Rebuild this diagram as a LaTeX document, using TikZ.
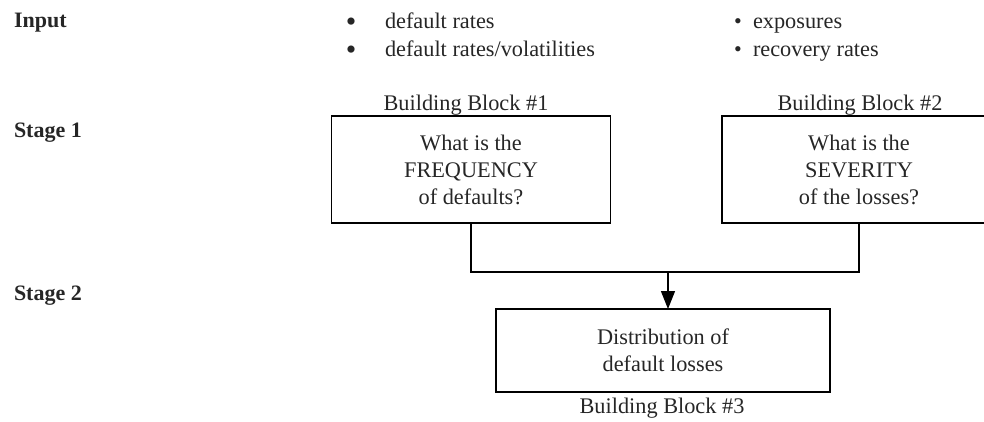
\documentclass[tikz,border=0pt]{standalone}
\usepackage{fontspec}
\setmainfont{Liberation Serif}
\usetikzlibrary{arrows.meta}
\begin{document}
\begin{tikzpicture}[x=1pt,y=-1pt,
  every node/.style={inner sep=0pt,outer sep=0pt,font=\fontsize{22.3}{27}\selectfont,text=black!85},
  lbl/.style={anchor=base west,font=\fontsize{22}{27}\selectfont\bfseries},
  txt/.style={anchor=base west},
  ctxt/.style={anchor=base},
  blockbox/.style={draw,line width=1.2pt,align=center},
  conn/.style={line width=1.2pt}]
\useasboundingbox (0,0) rectangle (984,421);
% row labels
\node[lbl] (input) at (14,27) {Input};
\node[lbl] (stage1) at (14,137) {Stage 1};
\node[lbl] (stage2) at (14,300) {Stage 2};
% inputs
\node[ctxt,font=\fontsize{30}{30}\selectfont] (bu1) at (351,31) {•};
\node[txt] (in1) at (385,28) {default rates};
\node[ctxt,font=\fontsize{30}{30}\selectfont] (bu2) at (351,59) {•};
\node[txt] (in2) at (385,56) {default rates/volatilities};
\node[ctxt,font=\fontsize{22}{22}\selectfont] (bu3) at (738,28) {•};
\node[txt] (in3) at (753,28) {exposures};
\node[ctxt,font=\fontsize{22}{22}\selectfont] (bu4) at (738,56) {•};
\node[txt] (in4) at (753,56) {recovery rates};
% block titles
\node[ctxt] (t1) at (466,110) {Building Block \#1};
\node[ctxt] (t2) at (860,110) {Building Block \#2};
% boxes
\node[blockbox,minimum width=279pt,minimum height=107pt] (b1) at (471,169.5)
  {What is the\\FREQUENCY\\of defaults?};
\node[blockbox,minimum width=274pt,minimum height=107pt] (b2) at (859,169.5)
  {What is the\\SEVERITY\\of the losses?};
\node[blockbox,minimum width=334pt,minimum height=83pt] (b3) at (663,350.5)
  {Distribution of\\default losses};
\node[ctxt] (t3) at (662,413) {Building Block \#3};
% connectors
\coordinate (j) at (668,272);
\draw[conn] (b1.south) |- (j) -| (b2.south);
\draw[conn,-{Triangle[width=14pt,length=18pt]}] (j) -- (j |- b3.north);
\end{tikzpicture}
\end{document}
